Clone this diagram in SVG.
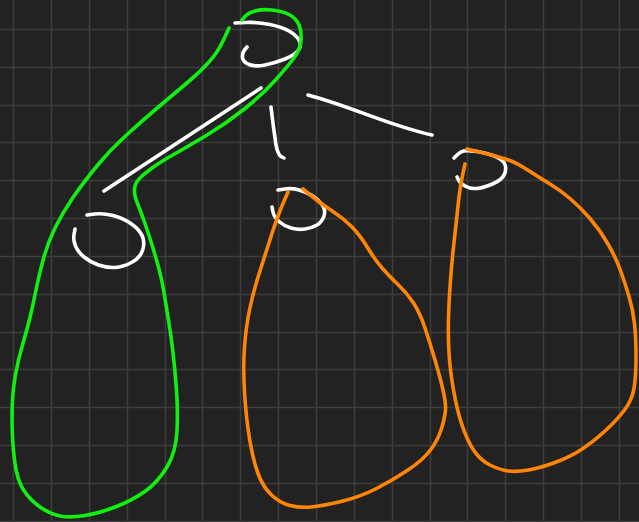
<svg xmlns="http://www.w3.org/2000/svg" width="639" height="522" viewBox="0 0 639 522">
<style>
.grid{stroke:#3d3d3d;stroke-width:1.6;fill:none}
.s{fill:none;stroke-width:3.6;stroke-linecap:round;stroke-linejoin:round}
.w{stroke:#ffffff}
.g{stroke:#11f011}
.o{stroke:#ff8507}
</style>
<rect width="639" height="522" fill="#222222"/>
<path class="grid" d="M13.5,0V522M51.5,0V522M89.5,0V522M127.5,0V522M165.5,0V522M202.5,0V522M240.5,0V522M278.5,0V522M316.5,0V522M354.5,0V522M392.5,0V522M430.5,0V522M467.5,0V522M505.5,0V522M543.5,0V522M581.5,0V522M619.5,0V522M0,29.5H639M0,67.5H639M0,105.5H639M0,142.5H639M0,180.5H639M0,218.5H639M0,256.5H639M0,294.5H639M0,332.5H639M0,369.5H639M0,407.5H639M0,445.5H639M0,483.5H639M0,521.5H639"/>
<g id="node-root">
<path class="s w" d="M235,23 L246.5,22.5 Q258,22 270,24.5 Q282,27 289,31 Q296,35 299,40 Q302,45 298.5,50 Q295,55 285,59 Q275,63 265,65 Q255,67 249,64.5 Q243,62 242.5,57.5 Q242,53 244.5,50 L247,47"/>
</g>
<g id="node-left">
<path class="s w" d="M87,215 L95,214 Q103,213 113,215.5 Q123,218 131.5,224 Q140,230 142.5,236.5 Q145,243 142.5,250.5 Q140,258 131.5,262.5 Q123,267 115,267.5 Q107,268 98.5,265 Q90,262 84,257 Q78,252 75.5,246 Q73,240 74,234.5 L75,229"/>
</g>
<g id="node-middle">
<path class="s w" d="M278,190 L285,189 Q292,188 299,190 Q306,192 312,195.5 Q318,199 322,204.5 Q326,210 324,216 Q322,222 317,225 Q312,228 305,229 Q298,230 291,228 Q284,226 279,221.5 Q274,217 273,212 L272,207"/>
</g>
<g id="node-right">
<path class="s w" d="M454,158 L457,155 Q460,152 463.5,151 Q467,150 477,151.5 Q487,153 494.5,156 Q502,159 504.5,163.5 Q507,168 504.5,174 Q502,180 492.5,184 Q483,188 476.5,188.5 Q470,189 465,186 Q460,183 458.5,180 L457,177"/>
</g>
<g id="connectors">
<path class="s w" d="M104,191 L261,88"/>
<path class="s w" d="M271,107 Q273,125 276,145 Q278,157 284,158"/>
<path class="s w" d="M308,95 C350,106 390,126 432,135"/>
</g>
<g id="subtree-left">
<path class="s g" d="M229,28 L223.5,40 Q218,52 209,62 Q200,72 187.5,82.5 Q175,93 159,106.5 Q143,120 126.5,135 Q110,150 96.5,166.5 Q83,183 73,197.5 Q63,212 55.5,227 Q48,242 43.5,258.5 Q39,275 36,290 Q33,305 30,317.5 Q27,330 22.5,345 Q18,360 15,377.5 Q12,395 12,417.5 Q12,440 14.5,460 Q17,480 23.5,490 Q30,500 40,507 Q50,514 60,516 Q70,518 85,515.5 Q100,513 116.5,506.5 Q133,500 145.5,491 Q158,482 167,467 Q176,452 177,431 Q178,410 176.5,390 Q175,370 173,352.5 Q171,335 168.5,320 Q166,305 164,292.5 Q162,280 159,269 Q156,258 152.5,246.5 Q149,235 145,223.5 Q141,212 137.5,203.5 Q134,195 134.5,189 Q135,183 140,178 Q145,173 153.5,167 Q162,161 174.5,154 Q187,147 207,135 Q227,123 245,108.5 Q263,94 275.5,80 Q288,66 294,58 Q300,50 301,41 Q302,32 299,25 Q296,18 289,14.5 Q282,11 272,10 Q262,9 255,11 Q248,13 245,16.5 L242,20"/>
</g>
<g id="subtree-middle">
<path class="s o" d="M288,192 L283,203.5 Q278,215 271.5,235 Q265,255 259,274 Q253,293 249.5,310 Q246,327 244.5,347 Q243,367 244.5,392 Q246,417 249.5,438.5 Q253,460 258,473.5 Q263,487 271.5,495 Q280,503 290,505.5 Q300,508 311,507 Q322,506 341,501.5 Q360,497 376.5,488.5 Q393,480 408,470 Q423,460 430.5,450 Q438,440 441.5,428.5 Q445,417 445.5,410 Q446,403 443,390 Q440,377 435,360 Q430,343 425,328 Q420,313 413.5,303 Q407,293 398.5,285 Q390,277 382.5,268.5 Q375,260 367.5,247.5 Q360,235 351.5,226.5 Q343,218 331.5,210.5 Q320,203 311.5,196 L303,189"/>
</g>
<g id="subtree-right">
<path class="s o" d="M465,164 L462.5,175.5 Q460,187 458,206 Q456,225 454,242.5 Q452,260 450.5,280 Q449,300 448.5,317.5 Q448,335 449,352.5 Q450,370 453.5,390 Q457,410 462,425 Q467,440 473.5,450 Q480,460 490,465 Q500,470 508.5,471 Q517,472 528.5,470 Q540,468 555,462.5 Q570,457 581.5,449.5 Q593,442 605,431 Q617,420 624.5,410 Q632,400 634,388.5 Q636,377 636,357 Q636,337 634.5,323.5 Q633,310 629,296.5 Q625,283 620.5,270.5 Q616,258 608,244 Q600,230 590,218.5 Q580,207 570,198.5 Q560,190 550,184 Q540,178 528.5,170.5 Q517,163 508.5,160 Q500,157 483.5,153 L467,149"/>
</g>
</svg>
